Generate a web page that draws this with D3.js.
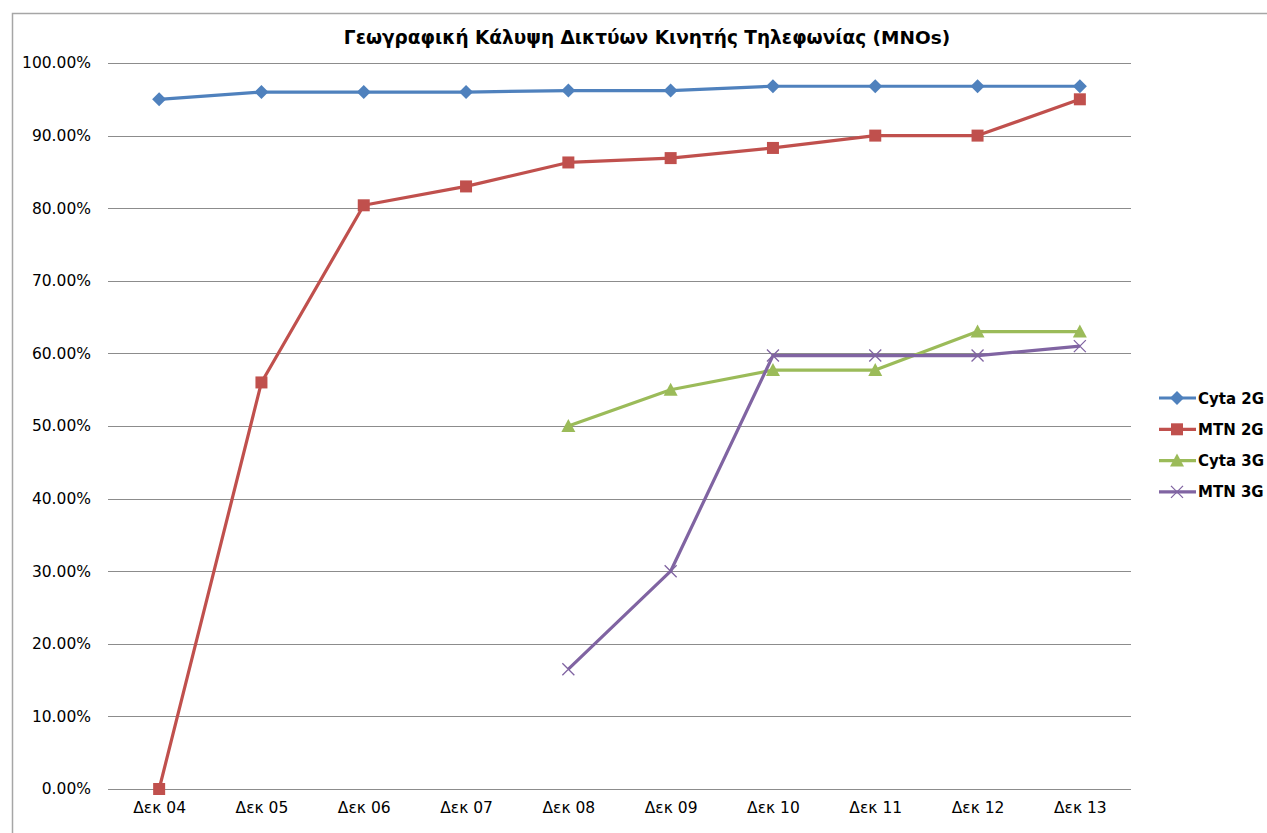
<!DOCTYPE html>
<html>
    <head>
        <style>
body {
    margin: 0;
    background: #fff;
}
text {
    font-family: "DejaVu Sans", sans-serif;
}
        </style>
    </head>
    <body>
        <div id="chart"></div>
        <script src="https://d3js.org/d3.v7.min.js"></script>
        <script>
const categories = ["Δεκ 04", "Δεκ 05", "Δεκ 06", "Δεκ 07", "Δεκ 08", "Δεκ 09", "Δεκ 10", "Δεκ 11", "Δεκ 12", "Δεκ 13"]
const cyta2G = [95.0, 96.0, 96.0, 96.0, 96.2, 96.2, 96.8, 96.8, 96.8, 96.8]
const mtn2G = [0, 56.0, 80.4, 83.0, 86.3, 86.9, 88.3, 90.0, 90.0, 95.0]
const cyta3G = [null, null, null, null, 50.0, 55.0, 57.7, 57.7, 63.0, 63.0]
const mtn3G = [null, null, null, null, 16.5, 30.0, 59.7, 59.7, 59.7, 61.0]
const yTicks = [0, 10, 20, 30, 40, 50, 60, 70, 80, 90, 100]
const seriesNames = ["Cyta 2G", "MTN 2G", "Cyta 3G", "MTN 3G"]

const series = [
    {name: seriesNames[0], values: cyta2G, color: "#4F81BD", marker: "diamond"},
    {name: seriesNames[1], values: mtn2G, color: "#C0504D", marker: "square"},
    {name: seriesNames[2], values: cyta3G, color: "#9BBB59", marker: "triangle"},
    {name: seriesNames[3], values: mtn3G, color: "#8064A2", marker: "cross"}
]

const W = 1267, H = 833
const plot = {left: 108, right: 1131, top: 63, bottom: 789}

const svg = d3.select("#chart").append("svg")
    .attr("width", W)
    .attr("height", H)

// chart border
svg.append("rect")
    .attr("x", 12.5).attr("y", 13.5)
    .attr("width", W).attr("height", H)
    .attr("fill", "none")
    .attr("stroke", "#a6a6a6")
    .attr("stroke-width", 1.5)

const x = d3.scalePoint()
    .domain(categories)
    .range([plot.left, plot.right])
    .padding(0.5)
const y = d3.scaleLinear()
    .domain([0, 100])
    .range([plot.bottom, plot.top])

svg.append("text")
    .attr("x", 647).attr("y", 44)
    .attr("text-anchor", "middle")
    .attr("font-size", 18.5)
    .attr("font-weight", "bold")
    .text("Γεωγραφική Κάλυψη Δικτύων Κινητής Τηλεφωνίας (MNOs)")

// gridlines
svg.append("g")
    .selectAll("line")
    .data(yTicks)
    .join("line")
    .attr("x1", plot.left).attr("x2", plot.right)
    .attr("y1", d => Math.round(y(d)) + 0.5).attr("y2", d => Math.round(y(d)) + 0.5)
    .attr("stroke", "#8c8c8c")
    .attr("stroke-width", 1)

// y axis labels
const yAxis = svg.append("g")
    .attr("transform", "translate(" + plot.left + ",0)")
    .call(d3.axisLeft(y).tickValues(yTicks).tickSize(0).tickPadding(17).tickFormat(d => d.toFixed(2) + "%"))
yAxis.select(".domain").remove()
yAxis.selectAll("text").attr("font-size", 15.5).attr("fill", "#000").style("font-family", "\"DejaVu Sans\", sans-serif")

// x axis labels
const xAxis = svg.append("g")
    .attr("transform", "translate(0," + plot.bottom + ")")
    .call(d3.axisBottom(x).tickSize(0).tickPadding(13))
xAxis.select(".domain").remove()
xAxis.selectAll("text").attr("font-size", 15.5).attr("fill", "#000").style("font-family", "\"DejaVu Sans\", sans-serif")

const line = d3.line()
    .defined(d => d != null)
    .x((d, i) => x(categories[i]))
    .y(d => y(d))

const drawMarker = (g, type, color) => {
    if (type === "diamond") {
        g.append("path").attr("d", "M0,-7L7,0L0,7L-7,0Z").attr("fill", color)
    } else if (type === "square") {
        g.append("rect").attr("x", -6).attr("y", -6).attr("width", 12).attr("height", 12).attr("fill", color)
    } else if (type === "triangle") {
        g.append("path").attr("d", "M0,-7L7,6L-7,6Z").attr("fill", color)
    } else {
        g.append("path").attr("d", "M-6,-6L6,6M-6,6L6,-6").attr("stroke", color).attr("stroke-width", 1.3).attr("fill", "none")
    }
}

series.forEach(s => {
    svg.append("path")
        .datum(s.values)
        .attr("d", line)
        .attr("fill", "none")
        .attr("stroke", s.color)
        .attr("stroke-width", 3.2)
        .attr("stroke-linejoin", "round")
    s.values.forEach((v, i) => {
        if (v == null) return
        const g = svg.append("g").attr("transform", "translate(" + x(categories[i]) + "," + y(v) + ")")
        drawMarker(g, s.marker, s.color)
    })
})

// legend
const legend = svg.append("g")
series.forEach((s, i) => {
    const ly = 398 + i * 31.3
    legend.append("line")
        .attr("x1", 1159).attr("x2", 1196)
        .attr("y1", ly).attr("y2", ly)
        .attr("stroke", s.color).attr("stroke-width", 3.2)
    const g = legend.append("g").attr("transform", "translate(1177," + ly + ")")
    drawMarker(g, s.marker, s.color)
    legend.append("text")
        .attr("x", 1198).attr("y", ly + 5.5)
        .attr("font-size", 15)
        .attr("font-weight", "bold")
        .text(s.name)
})
        </script>
    </body>
</html>
